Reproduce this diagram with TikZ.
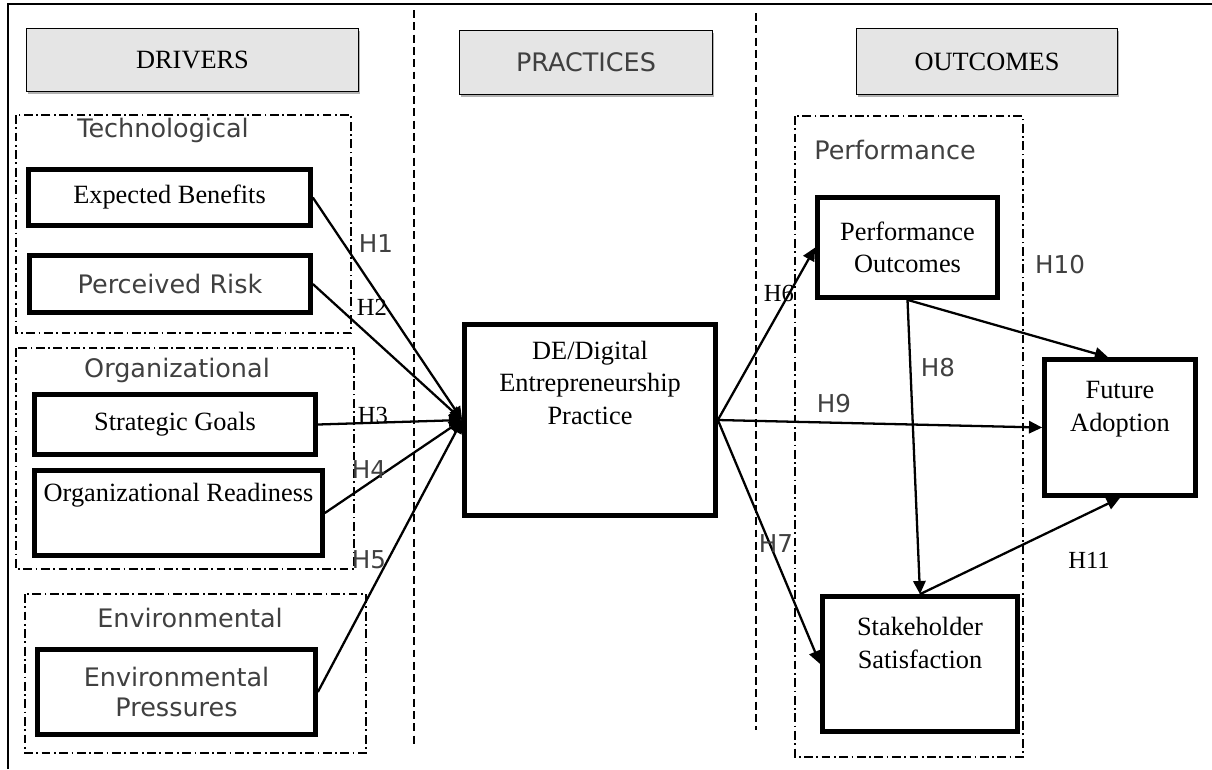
\documentclass[tikz,border=0pt]{standalone}
\usepackage{fontspec}
\setmainfont{Liberation Serif}
\setsansfont{DejaVu Sans}
\usepackage{xcolor}
\colorlet{colorSans}{black!75}
\colorlet{colorHeader}{black!10}
\usepackage{tikz}
\usetikzlibrary{arrows.meta, positioning, shadows}
\tikzset{
  header/.style={draw=black, line width=0.9pt, fill=colorHeader,
    drop shadow={shadow xshift=0.6pt, shadow yshift=-1.6pt, fill=black!30, opacity=1},
    font=\fontsize{15}{18}\selectfont},
  var/.style={draw, line width=2.7pt, fill=white, align=center, inner sep=3pt,
    font=\fontsize{15}{18.5}\selectfont},
  varsans/.style={var, text=colorSans, font=\sffamily\fontsize{14.5}{17.6}\selectfont},
  group/.style={draw, line width=0.6pt, dash pattern=on 5pt off 2pt on 1pt off 2pt},
  grouplabel/.style={text=colorSans, font=\sffamily\fontsize{14.5}{17}\selectfont},
  hyp/.style={inner sep=0pt, text=colorSans, font=\sffamily\fontsize{14}{16}\selectfont},
  hypserif/.style={inner sep=0pt, font=\fontsize{14}{16}\selectfont},
  link/.style={->, line width=1.3pt},
  divider/.style={line width=0.8pt, dash pattern=on 4.5pt off 2.5pt}
}

\begin{document}
\begin{tikzpicture}[x=0.02cm, y=-0.02cm, >={Triangle[length=7.5pt,width=7pt]}]
\useasboundingbox (0,0) rectangle (1212,769);

% frame and column dividers
\draw[line width=0.9pt] (8,769) -- (8,4) -- (1212,4);
\draw[divider] (414,10) -- (414,745);
\draw[divider] (756,13) -- (756,730);

% column headers
\node[header, minimum width=6.64cm, minimum height=1.26cm] (drivers) at (192.5,60) {DRIVERS};
\node[header, minimum width=5.06cm, minimum height=1.28cm, text=colorSans, font=\sffamily\fontsize{14.5}{17}\selectfont] (practices) at (586,62.5) {PRACTICES};
\node[header, minimum width=5.22cm, minimum height=1.32cm] (outcomes) at (987,61.5) {OUTCOMES};

% driver groups
\draw[group] (16,115) rectangle (351,333);
\node[grouplabel] (techlabel) at (163,130) {Technological};
\draw[group] (16,348) rectangle (354,569);
\node[grouplabel] (orglabel) at (177,370) {Organizational};
\draw[group] (25,594) rectangle (366,753);
\node[grouplabel] (envlabel) at (190,618) {Environmental};

% outcome group
\draw[group] (795,116) rectangle (1023,757);
\node[grouplabel] (perflabel) at (895,150) {Performance};

% constructs
\node[var, minimum width=5.64cm, minimum height=1.12cm] (eb) at (169.5,197.5) {Expected Benefits};
\node[varsans, minimum width=5.62cm, minimum height=1.14cm] (pr) at (170,284) {Perceived Risk};
\node[var, minimum width=5.62cm, minimum height=1.2cm] (sg) at (175,424.5) {Strategic Goals};
\node[var, minimum width=5.76cm, minimum height=1.7cm] (or) at (178.5,513) {Organizational Readiness\\ \strut};
\node[varsans, minimum width=5.56cm, minimum height=1.7cm] (ep) at (176.5,692) {Environmental\\Pressures};
\node[var, minimum width=5.02cm, minimum height=3.82cm] (de) at (590,420) {DE/Digital\\Entrepreneurship\\Practice\\ \strut\\ \strut};
\node[var, minimum width=3.6cm, minimum height=2cm] (po) at (907.5,247.5) {Performance\\Outcomes};
\node[var, minimum width=3.9cm, minimum height=2.7cm] (ss) at (920,664) {Stakeholder\\Satisfaction\\ \strut};
\node[var, minimum width=3.02cm, minimum height=2.72cm] (fa) at (1120,427.5) {Future\\Adoption\\ \strut};

% hypotheses
\draw[link] (eb.east) -- (de.west);
\draw[link] (pr.east) -- (de.west);
\draw[link] (sg.east) -- (de.west);
\draw[link] (or.east) -- (de.west);
\draw[link] (ep.east) -- (de.west);
\draw[link] (de.east) -- (po.west);
\draw[link] (de.east) -- (ss.west);
\draw[link] (de.east) -- (fa.west);
\draw[link] (po.south) -- (ss.north);
\draw[link] (po.south) -- ([xshift=-0.24cm]fa.north);
\draw[link] (ss.north) -- (fa.south);

\node[hyp] (h1) at (376,244) {H1};
\node[hypserif] (h2) at (372,307) {H2};
\node[hypserif] (h3) at (373,415) {H3};
\node[hyp] (h4) at (369,470) {H4};
\node[hyp] (h5) at (369,560) {H5};
\node[hypserif] (h6) at (779,293) {H6};
\node[hyp] (h7) at (776,544) {H7};
\node[hyp] (h8) at (938,368) {H8};
\node[hyp] (h9) at (834,404) {H9};
\node[hyp] (h10) at (1060,265) {H10};
\node[hypserif] (h11) at (1089,560) {H11};
\end{tikzpicture}
\end{document}
